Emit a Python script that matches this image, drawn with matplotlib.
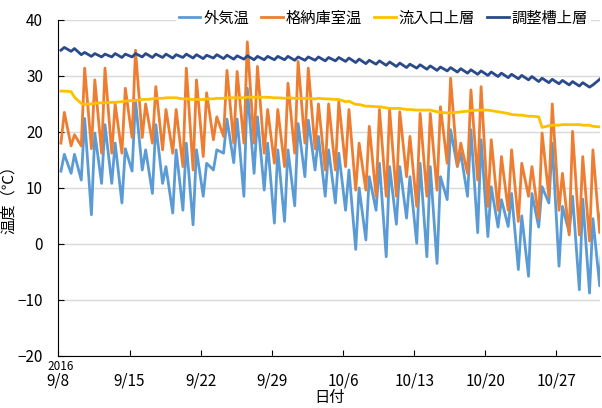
import datetime as dt

import matplotlib
matplotlib.use("Agg")
import matplotlib.pyplot as plt
import matplotlib.ticker as mticker

plt.rcParams["font.family"] = ["Noto Sans CJK JP", "DejaVu Sans"]

START = dt.datetime(2016, 9, 8)

# daily readings (low around 6h, high around 14h), one row per week
blue_lo = [13.0, 12.6, 11.4, 5.2, 10.8, 10.8, 7.3,
           13.0, 13.2, 9.0, 10.8, 5.5, 6.0, 3.4,
           8.5, 13.2, 16.2, 14.5, 8.5, 12.6, 9.6,
           3.7, 4.0, 6.8, 12.0, 13.2, 8.5, 7.3,
           6.0, -1.0, 0.7, 6.0, -2.3, 3.5, 4.6,
           0.1, -2.3, -3.5, 7.9, 13.8, 8.5, 2.0,
           1.3, 3.0, 3.1, -4.6, -5.8, 3.0, 7.3,
           -4.0, 2.0, -8.2, -8.8, -7.5]
blue_hi = [16.0, 16.0, 22.4, 19.8, 21.3, 18.0, 17.0,
           25.7, 16.8, 21.3, 13.8, 16.8, 18.0, 16.8,
           14.4, 16.8, 22.3, 22.3, 27.8, 22.7, 18.0,
           16.8, 16.8, 21.5, 22.1, 19.2, 16.8, 16.2,
           13.2, 10.0, 12.0, 14.4, 13.8, 13.8, 12.0,
           14.4, 13.8, 12.0, 20.4, 16.2, 20.4, 18.6,
           10.2, 7.9, 9.0, 5.0, 9.0, 10.2, 18.0,
           6.7, 8.5, 8.0, 4.5, 4.3]

orange_lo = [18.0, 17.5, 17.5, 17.0, 16.2, 16.2, 16.2,
             19.0, 19.0, 18.0, 16.8, 16.2, 13.8, 13.2,
             15.6, 18.6, 19.2, 18.0, 18.0, 18.0, 16.2,
             14.4, 13.8, 16.2, 18.0, 17.0, 13.2, 13.2,
             13.8, 9.6, 9.6, 8.5, 8.5, 8.5, 12.0,
             6.7, 8.5, 9.6, 14.4, 14.0, 12.6, 11.4,
             6.7, 6.0, 6.0, 4.0, 8.5, 4.6, 8.5,
             6.0, 1.6, 1.6, 0.5, 2.0]
orange_hi = [23.5, 19.5, 31.4, 29.3, 31.4, 25.0, 27.8,
             34.6, 25.0, 28.1, 24.0, 24.0, 31.4, 29.3,
             27.0, 22.7, 31.0, 30.8, 36.1, 31.7, 24.0,
             24.0, 28.7, 32.6, 31.4, 25.0, 25.0, 25.4,
             24.0, 18.0, 21.0, 24.0, 24.0, 23.6, 19.2,
             23.3, 23.3, 24.5, 29.6, 18.0, 27.5, 28.1,
             18.6, 15.6, 16.8, 14.4, 13.8, 19.8, 25.0,
             12.6, 20.1, 15.6, 16.8, 10.2]

yel_lo = [27.3, 27.2, 25.1, 25.0, 25.2, 25.3, 25.4,
          25.6, 25.8, 25.9, 26.0, 26.1, 25.9, 25.8,
          25.8, 25.9, 26.0, 26.1, 26.1, 26.2, 26.2,
          26.1, 26.0, 26.0, 26.0, 25.9, 25.9, 25.8,
          25.4, 24.9, 24.6, 24.5, 24.3, 24.2, 24.0,
          23.9, 23.9, 23.6, 23.4, 23.5, 23.7, 23.9,
          23.9, 23.6, 23.3, 23.0, 22.8, 22.7, 21.1,
          21.2, 21.3, 21.3, 21.2, 20.9]
yel_hi = [27.3, 26.2, 24.9, 25.1, 25.2, 25.3, 25.5,
          25.6, 25.8, 26.0, 26.1, 26.1, 25.9, 25.8,
          25.9, 26.0, 26.1, 26.1, 26.2, 26.2, 26.2,
          26.1, 26.1, 26.0, 26.0, 26.0, 25.9, 25.8,
          25.5, 24.9, 24.6, 24.5, 24.2, 24.2, 24.0,
          23.9, 23.9, 23.5, 23.4, 23.6, 23.8, 23.9,
          23.8, 23.5, 23.1, 23.0, 22.8, 20.8, 21.2,
          21.3, 21.3, 21.2, 21.0, 20.9]

dblue_lo = [34.6, 34.4, 33.8, 33.5, 33.4, 33.4, 33.3,
            33.4, 33.4, 33.3, 33.3, 33.2, 33.3, 33.2,
            33.1, 33.2, 33.1, 33.0, 33.0, 32.9, 32.9,
            32.9, 32.9, 32.8, 32.8, 32.8, 32.7, 32.7,
            32.6, 32.4, 32.2, 32.1, 31.9, 31.7, 31.5,
            31.4, 31.2, 31.0, 30.9, 30.7, 30.5, 30.3,
            30.1, 29.9, 29.7, 29.5, 29.3, 29.0, 28.8,
            28.6, 28.4, 28.2, 28.0, 29.4]
dblue_hi = [35.1, 34.9, 34.2, 34.0, 33.9, 34.0, 33.9,
            34.0, 34.0, 33.9, 33.9, 33.8, 33.9, 33.8,
            33.7, 33.8, 33.7, 33.6, 33.6, 33.5, 33.5,
            33.5, 33.5, 33.4, 33.4, 33.4, 33.3, 33.3,
            33.2, 33.0, 32.8, 32.7, 32.5, 32.3, 32.1,
            32.0, 31.8, 31.6, 31.5, 31.3, 31.1, 30.9,
            30.7, 30.5, 30.3, 30.1, 29.9, 29.6, 29.4,
            29.2, 29.0, 28.8, 28.4, 30.0]

labels = ["外気温", "格納庫室温", "流入口上層", "調整槽上層"]
colors = ["#5B9BD5", "#ED7D31", "#FFC000", "#2A4A8A"]


def zigzag(lo, hi):
    t, v = [], []
    for d, (a, b) in enumerate(zip(lo, hi)):
        t.append(START + dt.timedelta(days=d, hours=6))
        v.append(a)
        t.append(START + dt.timedelta(days=d, hours=14))
        v.append(b)
    return t, v


fig = plt.figure(figsize=(6.02, 4.08), dpi=100)
ax = fig.add_axes([0.097, 0.128, 0.9, 0.823])

for (lo, hi), lab, col in zip([(blue_lo, blue_hi), (orange_lo, orange_hi),
                               (yel_lo, yel_hi), (dblue_lo, dblue_hi)],
                              labels, colors):
    t, v = zigzag(lo, hi)
    ax.plot(t, v, color=col, lw=2, label=lab)

ax.set_xlim(START, START + dt.timedelta(days=53.3))
ax.set_ylim(-20, 40)
ax.yaxis.set_major_locator(mticker.MultipleLocator(10))
ticks = [START + dt.timedelta(days=7 * k) for k in range(8)]
ax.set_xticks(ticks)
ax.set_xticklabels([f"{d.month}/{d.day}" for d in ticks])

ax.grid(axis="y", color="#D9D9D9", lw=1)
ax.set_axisbelow(True)
for s in ["top", "right"]:
    ax.spines[s].set_visible(False)
ax.tick_params(axis="both", direction="in", length=4, labelsize=11, color="black")
ax.tick_params(axis="x", pad=12)
ax.tick_params(axis="y", pad=11)

ax.text(0.004, -0.012, "2016", transform=ax.transAxes, ha="center", va="top", fontsize=8.5)

ax.set_xlabel("日付", fontsize=11, labelpad=0)
ax.set_ylabel("温度（℃）", fontsize=11)
ax.yaxis.set_label_coords(-0.077, 0.475)

leg = ax.legend(loc="center", bbox_to_anchor=(0.6, 1.006), ncol=4, fontsize=11,
                handlelength=1.4, handletextpad=0.2, columnspacing=0.8,
                frameon=True, borderpad=0.2)
leg.get_frame().set_edgecolor("none")
leg.get_frame().set_facecolor("white")
leg.get_frame().set_alpha(1)

fig.savefig("out.png", dpi=100)
